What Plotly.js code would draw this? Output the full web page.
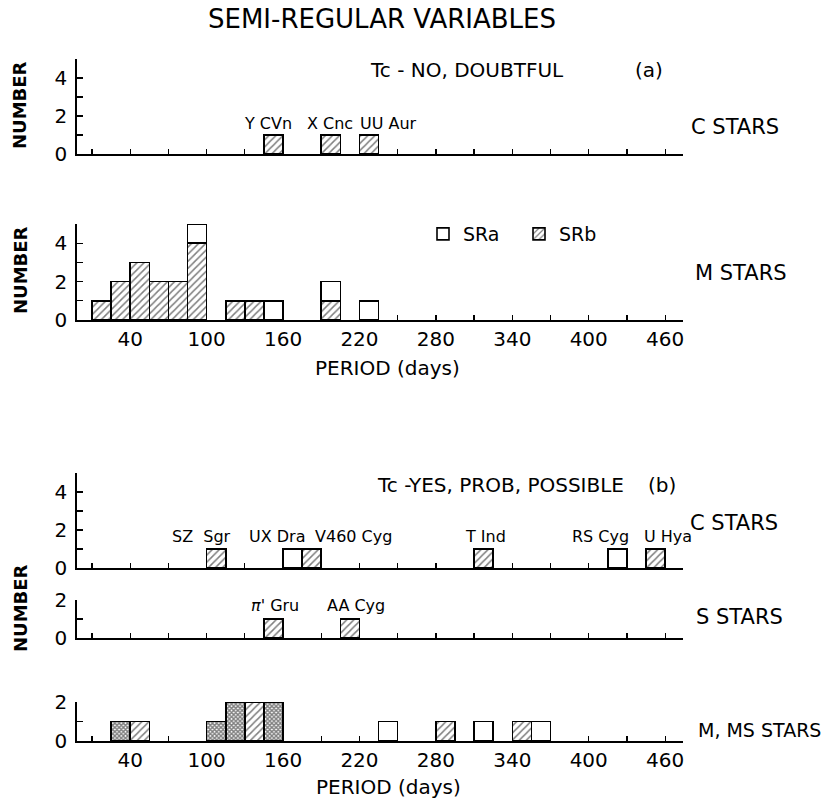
<!DOCTYPE html>
<html><head><meta charset="utf-8">
<script src="https://cdn.plot.ly/plotly-3.0.1.min.js"></script>
<style>html,body{margin:0;padding:0;background:#fff}</style>
</head><body><div id="chart" style="width:824px;height:798px"></div>
<script>
// ---- data: period bins (left edge, days) and number of stars ----
const binWidth = 15;
// (a) Tc-NO, DOUBTFUL : C stars
const aC_SRb_start = [145, 190, 220];
const aC_SRb_n     = [1, 1, 1];
const aC_names     = ['Y CVn', 'X Cnc', 'UU Aur'];
const aC_namePos   = [148, 197, 243];
// (a) M stars
const aM_SRb_start = [10, 25, 40, 55, 70, 85, 115, 130, 190];
const aM_SRb_n     = [1, 2, 3, 2, 2, 4, 1, 1, 1];
const aM_SRa_start = [85, 145, 190, 220];
const aM_SRa_n     = [1, 1, 1, 1];
// (b) Tc-YES, PROB, POSSIBLE : C stars
const bC_SRa_start = [160, 415];
const bC_SRa_n     = [1, 1];
const bC_SRb_start = [100, 175, 310, 445];
const bC_SRb_n     = [1, 1, 1, 1];
const bC_names     = ['SZ&nbsp;&nbsp;Sgr', 'UX Dra', 'V460 Cyg', 'T Ind', 'RS Cyg', 'U Hya'];
const bC_namePos   = [96, 155, 215, 319, 409, 462];
// (b) S stars
const bS_SRb_start = [145, 205];
const bS_SRb_n     = [1, 1];
const bS_names     = ["<i>π</i>' Gru", 'AA Cyg'];
const bS_namePos   = [154, 217];
// (b) M, MS stars
const bM_SRa_start = [235, 310, 355];
const bM_SRa_n     = [1, 1, 1];
const bM_SRb_start = [40, 130, 280, 340];
const bM_SRb_n     = [1, 2, 1, 1];
const bM_X_start   = [25, 100, 115, 145];
const bM_X_n       = [1, 1, 2, 2];

const xTickVals = [10, 40, 70, 100, 130, 160, 190, 220, 250, 280, 310, 340, 370, 400, 430, 460];
const xTickText = ['', '40', '', '100', '', '160', '', '220', '', '280', '', '340', '', '400', '', '460'];
const yTickVals5 = [0, 1, 2, 3, 4, 5];
const yTickText5 = ['0', '', '2', '', '4', ''];
const yTickVals2 = [0, 1, 2];
const yTickText2 = ['0', '', '2'];

// ---- styling ----
const W = 824, H = 798;
const FONT = 'DejaVu Sans, Liberation Sans, sans-serif';
const px = v => v / W;
const py = v => 1 - v / H;
const line = {color: '#000', width: 1.6};
const hatch = {shape: '/', size: 5, solidity: 0.3, fgcolor: '#000', bgcolor: '#fff', fillmode: 'overlay'};
const cross = {shape: 'x', size: 3, solidity: 0.7, fgcolor: '#000', bgcolor: '#fff', fillmode: 'overlay'};

function bars(xs, ns, kind, ax, legend) {
  const m = {color: '#fff', line: line};
  if (kind === 'SRb') m.pattern = hatch;
  if (kind === 'X') m.pattern = cross;
  return {
    type: 'bar', x: xs, y: ns, width: binWidth, offset: 0,
    xaxis: 'x' + (ax === 1 ? '' : ax), yaxis: 'y' + (ax === 1 ? '' : ax),
    marker: m, name: kind, showlegend: !!legend, legendrank: kind === 'SRa' ? 1 : 2,
    hoverinfo: 'x+y'
  };
}

const data = [
  bars(aC_SRb_start, aC_SRb_n, 'SRb', 1),
  bars(aM_SRb_start, aM_SRb_n, 'SRb', 2, true),
  bars(aM_SRa_start, aM_SRa_n, 'SRa', 2, true),
  bars(bC_SRb_start, bC_SRb_n, 'SRb', 3),
  bars(bC_SRa_start, bC_SRa_n, 'SRa', 3),
  bars(bS_SRb_start, bS_SRb_n, 'SRb', 4),
  bars(bM_X_start, bM_X_n, 'X', 5),
  bars(bM_SRb_start, bM_SRb_n, 'SRb', 5),
  bars(bM_SRa_start, bM_SRa_n, 'SRa', 5),
];

const xDom = [px(76.7), px(683)];
function xax(anchor, labels) {
  return {
    domain: xDom, anchor: anchor, range: [-2, 474], showgrid: false, zeroline: false,
    showline: true, linecolor: '#000', linewidth: 1.5,
    ticks: 'inside', ticklen: 5, tickwidth: 1.3, tickcolor: '#000',
    tickvals: xTickVals, ticktext: xTickText, showticklabels: labels,
    tickfont: {family: FONT, size: 20, color: '#000'}, fixedrange: true
  };
}
function yax(anchor, bottom, top, big) {
  return {
    domain: [py(bottom), py(top)], anchor: anchor, range: big ? [0, 5] : [0, 2],
    showgrid: false, zeroline: false, showline: true, linecolor: '#000', linewidth: 1.5,
    ticks: 'inside', ticklen: 6, tickwidth: 1.3, tickcolor: '#000',
    tickvals: big ? yTickVals5 : yTickVals2, ticktext: big ? yTickText5 : yTickText2,
    tickfont: {family: FONT, size: 20, color: '#000'}, ticklabelstandoff: 4, fixedrange: true
  };
}

const ann = [];
function txt(text, x, y, size, opts) {
  ann.push(Object.assign({text: text, xref: 'paper', yref: 'paper', x: px(x), y: py(y),
    showarrow: false, xanchor: 'center', yanchor: 'middle',
    font: {family: FONT, size: size, color: '#000'}}, opts || {}));
}
txt('SEMI-REGULAR VARIABLES', 382, 19, 26);
txt('Tc - NO, DOUBTFUL', 368, 70, 20, {xanchor: 'left'});
txt('(a)', 649, 70, 20);
txt('C STARS', 689, 127, 21, {xanchor: 'left'});
txt('M STARS', 693, 273, 21, {xanchor: 'left'});
txt('Tc -YES, PROB, POSSIBLE', 375, 485, 20, {xanchor: 'left'});
txt('(b)', 662, 485, 20);
txt('C STARS', 688, 523, 21, {xanchor: 'left'});
txt('S STARS', 694, 617, 21, {xanchor: 'left'});
txt('M, MS STARS', 696, 730, 19, {xanchor: 'left'});
txt('PERIOD (days)', 387, 368, 20);
txt('PERIOD (days)', 388, 787, 20);
txt('<b>NUMBER</b>', 20, 105, 18, {textangle: -90});
txt('<b>NUMBER</b>', 20, 270, 18, {textangle: -90});
txt('<b>NUMBER</b>', 20, 608, 18, {textangle: -90});

function names(list, pos, ax, yPix) {
  list.forEach((n, i) => ann.push({text: n, xref: 'x' + ax, yref: 'paper', x: pos[i], y: py(yPix),
    showarrow: false, xanchor: 'center', yanchor: 'middle',
    font: {family: FONT, size: 16, color: '#000'}}));
}
names(aC_names, aC_namePos, '', 123);
names(bC_names, bC_namePos, '3', 536);
names(bS_names, bS_namePos, '4', 605);

const layout = {
  width: W, height: H, margin: {l: 0, r: 0, t: 0, b: 0},
  paper_bgcolor: '#fff', plot_bgcolor: 'rgba(0,0,0,0)',
  barmode: 'stack', bargap: 0,
  xaxis: xax('y', false), yaxis: yax('x', 154, 59, true),
  xaxis2: xax('y2', true), yaxis2: yax('x2', 320, 224, true),
  xaxis3: xax('y3', false), yaxis3: yax('x3', 568, 473, true),
  xaxis4: xax('y4', false), yaxis4: yax('x4', 638, 600, false),
  xaxis5: xax('y5', true), yaxis5: yax('x5', 741, 702, false),
  showlegend: true,
  legend: {orientation: 'h', traceorder: 'normal', x: px(423), y: py(234), xanchor: 'left', yanchor: 'middle',
    entrywidth: 51, entrywidthmode: 'pixels', bgcolor: 'rgba(0,0,0,0)',
    font: {family: FONT, size: 19, color: '#000'}},
  annotations: ann
};

Plotly.newPlot('chart', data, layout, {staticPlot: true, displayModeBar: false});
</script></body></html>
